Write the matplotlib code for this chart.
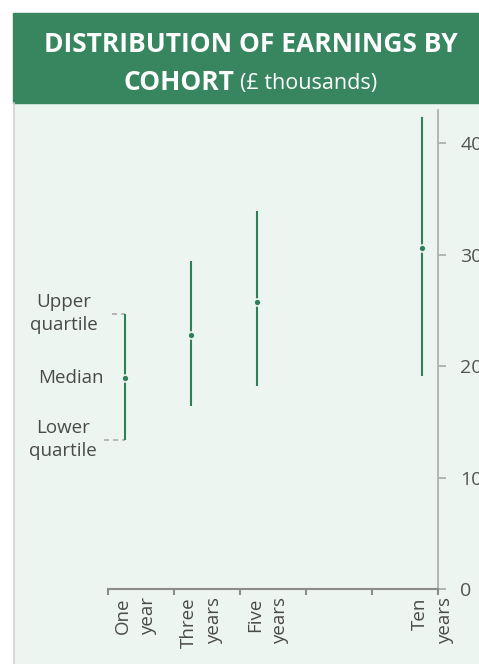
import matplotlib.pyplot as plt
from matplotlib.patches import Rectangle

plt.rcParams['font.family'] = ['Open Sans', 'DejaVu Sans']

cohorts = ['One\nyear', 'Three\nyears', 'Five\nyears', 'Ten\nyears']
years = [1, 3, 5, 10]
lower_q = [13.4, 16.4, 18.2, 19.1]
median = [18.9, 22.8, 25.8, 30.6]
upper_q = [24.7, 29.4, 33.9, 42.4]

green = '#2f8057'
head_green = '#37865f'
bg = '#ecf5f0'
text_col = '#4a4a4a'

W, H = 479, 664
fig = plt.figure(figsize=(W / 100, H / 100), dpi=100)

def px(x0, y0, w, h):
    # pixel box (top-left origin) -> figure fraction
    return (x0 / W, 1 - (y0 + h) / H, w / W, h / H)

# panel background + header band
x0, y0, w, h = px(14, 103, W - 14, H - 103)
fig.patches.append(Rectangle((x0, y0), w, h, transform=fig.transFigure, color=bg, zorder=-2))
fig.add_artist(plt.Line2D([13.5 / W, 13.5 / W], [0, 1 - 103 / H], transform=fig.transFigure,
                          color='#d0d0d0', lw=1.2, zorder=-1))
x0, y0, w, h = px(13, 13, W - 13, 90)
fig.patches.append(Rectangle((x0, y0), w, h, transform=fig.transFigure, color=head_green, zorder=-2))

fig.text(251 / W, 1 - 45 / H, 'DISTRIBUTION OF EARNINGS BY', color='white', fontsize=19,
         fontweight='bold', ha='center', va='center')
fig.text(234 / W, 1 - 83 / H, 'COHORT', color='white', fontsize=19,
         fontweight='bold', ha='right', va='center')
fig.text(240 / W, 1 - 84 / H, '(£ thousands)', color='white', fontsize=15.5,
         ha='left', va='center')

ax = fig.add_axes([108 / W, 1 - 589 / H, 330 / W, 479 / H])
ax.set_facecolor('none')
ax.set_xlim(0.5, 10.5)
ax.set_ylim(0, 43)

for s in ['left', 'top']:
    ax.spines[s].set_visible(False)
ax.spines['right'].set_color('#b0b0b0')
ax.spines['right'].set_linewidth(1.3)
ax.spines['bottom'].set_color('#8c8c8c')
ax.spines['bottom'].set_linewidth(1.5)

ax.yaxis.tick_right()
ax.set_yticks([0, 10, 20, 30, 40])
ax.tick_params(axis='y', colors='#b0b0b0', labelcolor='#555555', length=6, width=1.3,
               labelsize=14, pad=10)
ax.set_xticks([0.5, 2.5, 4.5, 6.5, 8.5, 10.5])
ax.set_xticklabels([])
ax.tick_params(axis='x', colors='#8c8c8c', length=4, width=1.5)

ax.vlines(years, lower_q, upper_q, color=green, lw=1.5, zorder=3)
ax.plot(years, median, 'o', color=green, ms=5, mec=bg, mew=1.2, zorder=4)

for x, lab in zip(years, cohorts):
    ax.annotate(lab, xy=(x, 0), xycoords=('data', 'axes fraction'), xytext=(8, -6),
                textcoords='offset points', rotation=90, ha='center', va='top',
                multialignment='right', fontsize=13.5, color=text_col, linespacing=1.5,
                annotation_clip=False)

# key on the first cohort
ax.plot([0.61, 1.0], [upper_q[0]] * 2, color='#aaaaaa', lw=1.2, ls=(0, (3, 2.5)),
        clip_on=False, zorder=2)
ax.plot([0.39, 1.0], [lower_q[0]] * 2, color='#aaaaaa', lw=1.2, ls=(0, (3, 2.5)),
        clip_on=False, zorder=2)
ax.annotate('Upper\nquartile', xy=(1, upper_q[0]), xytext=(-19, 0), textcoords='offset points',
            ha='right', va='center', multialignment='center', fontsize=13.5, color=text_col,
            linespacing=1.35, annotation_clip=False)
ax.annotate('Median', xy=(1, median[0]), xytext=(-15, 0), textcoords='offset points',
            ha='right', va='center', fontsize=13.5, color=text_col, annotation_clip=False)
ax.annotate('Lower\nquartile', xy=(1, lower_q[0]), xytext=(-20, 0), textcoords='offset points',
            ha='right', va='center', multialignment='center', fontsize=13.5, color=text_col,
            linespacing=1.35, annotation_clip=False)

fig.savefig('out.png', dpi=100, facecolor='white')
